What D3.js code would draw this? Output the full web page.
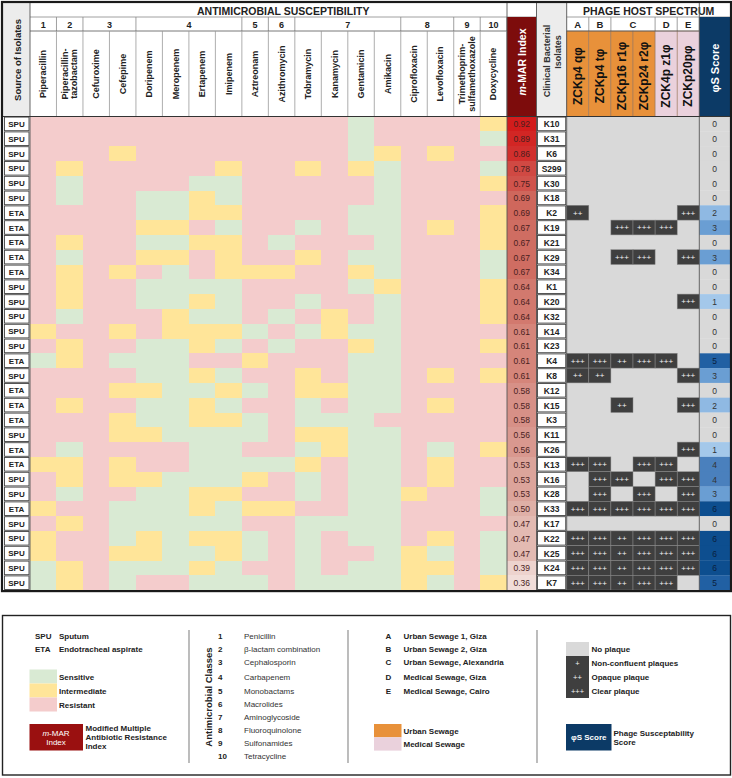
<!DOCTYPE html>
<html><head><meta charset="utf-8">
<script src="https://cdn.jsdelivr.net/npm/d3@7"></script>
<style>
body{margin:0;background:#fff}
text{font-family:"Liberation Sans",Arial,sans-serif}
</style>
</head><body>
<svg id="c" width="732" height="778"></svg>
<script>
// ---------------- DATA ----------------
const drugs = ["Piperacillin","Piperacillin-|tazobactam","Cefuroxime","Cefepime","Doripenem","Meropenem","Ertapenem","Imipenem","Aztreonam","Azithromycin","Tobramycin","Kanamycin","Gentamicin","Amikacin","Ciprofloxacin","Levofloxacin","Trimethoprim-|sulfamethoxazole","Doxycycline"];
const drugClass = [1,2,3,3,4,4,4,4,5,6,7,7,7,7,8,8,9,10];
const isolates = ["K10","K31","K6","S299","K30","K18","K2","K19","K21","K29","K34","K1","K20","K32","K14","K23","K4","K8","K12","K15","K3","K11","K26","K13","K16","K28","K33","K17","K22","K25","K24","K7"];
const sources = ["SPU","SPU","SPU","SPU","SPU","SPU","ETA","ETA","ETA","ETA","ETA","SPU","SPU","SPU","SPU","SPU","ETA","SPU","ETA","ETA","ETA","SPU","ETA","ETA","SPU","SPU","ETA","SPU","SPU","SPU","SPU","SPU"];
const marIndex = [0.92,0.89,0.86,0.78,0.75,0.69,0.69,0.67,0.67,0.67,0.67,0.64,0.64,0.64,0.61,0.61,0.61,0.61,0.58,0.58,0.58,0.56,0.56,0.53,0.53,0.53,0.50,0.47,0.47,0.47,0.39,0.36];
// S = sensitive, I = intermediate, R = resistant (one letter per drug)
const susceptibility = [
"RRRRRRRRRRRRSRRRRI","RRRRRRRRRRRRSRRRRS","RRRIRRRRRRRRSIRIRR","RIRRRRRIRRIRISRRRS",
"RSRRRRSSRRRRRSRRRI","RSRRSSISRRRRRSRRRR","RRRRSSIIRRRRSSRRRI","RRRRIIRSRRSRSSRIRI",
"RIRRSSIIRSRRRSRRRI","RSRRIIRIRRIRSSRRRS","RIRIRSRIIIRRISRRRS","RIRRSSSSRRRRSIRRRI",
"RIRRSSISRRSRRSRRRI","RSRRRISSRSRIRSRRRI","IRRIRIIISRSISSRRRR","RIRRSSISRSRRISRRRI",
"SIRSSSRRIRRRSSRRRR","RRRRSSISRRIRSSRIRI","RRRIISSISRIISSRRRR","RIRRSSISRRSRSSRIRR",
"RRRISSIISRSSSRRRRR","RRRIISSSSRIISSRRRR","RSRRRRSSRRSISSRSRI","IIRIRRSSSSIRSSRIRR",
"RIRIISSSIRSRSSRIRR","RSRRSSIIRRSRSSIRRS","IRRSSSISIIRRSSRRRS","RIRSSSSSRRSSSSRRRR",
"IRRSISIISRSRSSRIRS","IRRIISSISRSRRSISRS","SIRSSSISRRSRSSIIRS","SIRSRRSSSRSSSSISRI"];
const phages = ["ZCKp4 qφ","ZCKp4 tφ","ZCKp16 r1φ","ZCKp24 r2φ","ZCK4p z1φ","ZCKp20pφ"];
const phageSite = ["A","B","C","C","D","E"];
const phageSewage = ["Urban","Urban","Urban","Urban","Medical","Medical"];
// 0 no plaque, 1 non-confluent (+), 2 opaque (++), 3 clear (+++)
const plaques = ["000000","000000","000000","000000","000000","000000","200003","003330","000000","003303",
"000000","000000","000003","000000","000000","000000","332330","220003","000000","002003",
"000000","000000","000003","330330","033033","030303","333333","000000","332333","332333","332333","332330"];
const phiScore = [0,0,0,0,0,0,2,3,0,3,0,0,1,0,0,0,5,3,0,2,0,0,1,4,4,3,6,0,6,6,6,5];

const legendSources = [["SPU","Sputum"],["ETA","Endotracheal aspirate"]];
const legendSusc = [["S","Sensitive"],["I","Intermediate"],["R","Resistant"]];
const legendClasses = ["Penicillin","β-lactam combination","Cephalosporin","Carbapenem","Monobactams","Macrolides","Aminoglycoside","Fluoroquinolone","Sulfonamides","Tetracycline"];
const legendSites = [["A","Urban Sewage 1, Giza"],["B","Urban Sewage 2, Giza"],["C","Urban Sewage, Alexandria"],["D","Medical Sewage, Giza"],["E","Medical Sewage, Cairo"]];
const legendSewage = [["Urban","Urban Sewage"],["Medical","Medical Sewage"]];
const legendPlaque = [[0,"No plaque"],[1,"Non-confluent plaques"],[2,"Opaque plaque"],[3,"Clear plaque"]];

// ---------------- STYLE ----------------
const suscColor = {S:"#d9ead3", I:"#ffe599", R:"#f4cccc"};
const sewageColor = {Urban:"#e8913a", Medical:"#ead1dc"};
const plaqueSym = ["","+","++","+++"];
const marColor = d3.scaleLinear().domain([0.36,0.5,0.67,0.92]).range(["#f1ddd9","#dfb0a7","#cf6d62","#d21c1c"]);
const scoreColor = d3.scaleOrdinal().domain([0,1,2,3,4,5,6]).range(["#d9d9d9","#a4c8ea","#8fb9e3","#6a9ed3","#4a80bd","#2160a3","#0d4e8f"]);
const grayBg = "#d9d9d9", darkCell = "#3f3f3f", marHead = "#7d0c0c", navy = "#0c3a66", hdrGray = "#ececec";

const svg = d3.select("#c");
const top0 = 3, yClass = 17, yName = 31, dataTop = 116.5, rowH = 14.8;
const xDrug = d3.scaleBand().domain(d3.range(drugs.length)).range([30, 506.7]);
const y = d3.scaleBand().domain(isolates).range([dataTop, dataTop + isolates.length*rowH]);
const xPh = d3.scaleBand().domain(d3.range(phages.length)).range([566.7, 699.3]);
const xMar = [507, 536.5], xIso = [536.5, 566.7], xScore = [699.3, 730.5], xSrc = [3, 30];
const bottom = y.range()[1];

function txt(g, x, yy, s, o={}) {
  const t = g.append("text").attr("x", x).attr("y", yy).text(s)
    .attr("font-size", o.size||8).attr("font-weight", o.weight||"bold")
    .attr("fill", o.fill||"#222").attr("text-anchor", o.anchor||"middle")
    .attr("dominant-baseline", "central");
  if (o.rot) t.attr("transform", `rotate(-90,${x},${yy})`);
  if (o.style) t.attr("font-style", o.style);
  return t;
}

// ---------------- HEADER ----------------
const H = svg.append("g");
H.append("rect").attr("x", xSrc[0]).attr("y", top0).attr("width", xSrc[1]-xSrc[0]).attr("height", dataTop-top0).attr("fill", hdrGray);
txt(H, 17, 60, "Source of Isolates", {size:9.5, rot:true});
txt(H, (30+536.5)/2, 10.5, "ANTIMICROBIAL SUSCEPTIBILITY", {size:10.5});
// class numbers
const groups = d3.groups(d3.range(drugs.length), i => drugClass[i]);
groups.forEach(([c, idx]) => {
  const x0 = xDrug(idx[0]), x1 = xDrug(idx[idx.length-1]) + xDrug.bandwidth();
  txt(H, (x0+x1)/2, 24.5, String(c), {size:9});
  H.append("line").attr("x1", x1).attr("x2", x1).attr("y1", yClass).attr("y2", yName).attr("stroke", "#888").attr("stroke-width", 0.8);
});
H.append("line").attr("x1", 30).attr("x2", 536.5).attr("y1", yClass).attr("y2", yClass).attr("stroke", "#888").attr("stroke-width", 0.8);
H.append("line").attr("x1", 30).attr("x2", 507).attr("y1", yName).attr("y2", yName).attr("stroke", "#555").attr("stroke-width", 0.8);
// drug names
drugs.forEach((d, i) => {
  const cx = xDrug(i) + xDrug.bandwidth()/2;
  H.append("line").attr("x1", xDrug(i)+xDrug.bandwidth()).attr("x2", xDrug(i)+xDrug.bandwidth())
    .attr("y1", yName).attr("y2", dataTop).attr("stroke", "#999").attr("stroke-width", 0.8);
  const parts = d.split("|");
  if (parts.length === 1) txt(H, cx, 74, d, {size:9, rot:true});
  else {
    txt(H, cx-4.6, 74, parts[0], {size:9, rot:true});
    txt(H, cx+4.6, 74, parts[1], {size:9, rot:true});
  }
});
// m-MAR header
H.append("rect").attr("x", xMar[0]).attr("y", yClass).attr("width", xMar[1]-xMar[0]).attr("height", dataTop-yClass).attr("fill", marHead);
const mt = txt(H, 521.8, 62, "", {size:10.5, rot:true, fill:"#fff"});
mt.append("tspan").attr("font-style", "italic").text("m");
mt.append("tspan").text("-MAR Index");
// Clinical isolates header
H.append("rect").attr("x", xIso[0]).attr("y", top0).attr("width", xIso[1]-xIso[0]).attr("height", dataTop-top0).attr("fill", hdrGray);
txt(H, 546.5, 61, "Clinical Bacterial", {size:9, rot:true, fill:"#333"});
txt(H, 557.5, 52, "Isolates", {size:9, rot:true, fill:"#333"});
// Phage header
txt(H, (566.7+730.5)/2, 10.5, "PHAGE HOST SPECTRUM", {size:10.5});
H.append("line").attr("x1", 566.7).attr("x2", 730.5).attr("y1", yClass).attr("y2", yClass).attr("stroke", "#888").attr("stroke-width", 0.8);
const siteGroups = d3.groups(d3.range(phages.length), i => phageSite[i]);
siteGroups.forEach(([s, idx]) => {
  const x0 = xPh(idx[0]), x1 = xPh(idx[idx.length-1]) + xPh.bandwidth();
  txt(H, (x0+x1)/2, 24.5, s, {size:9.5});
  H.append("line").attr("x1", x1).attr("x2", x1).attr("y1", yClass).attr("y2", yName).attr("stroke", "#888").attr("stroke-width", 0.8);
});
phages.forEach((p, i) => {
  H.append("rect").attr("x", xPh(i)).attr("y", yName).attr("width", xPh.bandwidth()).attr("height", dataTop-yName)
    .attr("fill", sewageColor[phageSewage[i]]).attr("stroke", "#9b7a60").attr("stroke-width", 0.6);
  txt(H, xPh(i)+xPh.bandwidth()/2, 76, p, {size:12, rot:true, fill:"#111"});
});
H.append("line").attr("x1", 566.7).attr("x2", 699.3).attr("y1", yName).attr("y2", yName).attr("stroke", "#555").attr("stroke-width", 0.8);
H.append("rect").attr("x", xScore[0]).attr("y", yClass).attr("width", xScore[1]-xScore[0]).attr("height", dataTop-yClass).attr("fill", navy);
txt(H, 715, 68, "φS Score", {size:11, rot:true, fill:"#fff"});

// ---------------- BODY ----------------
const B = svg.append("g").attr("shape-rendering", "crispEdges");
const cells = [];
isolates.forEach((iso, r) => susceptibility[r].split("").forEach((s, c) => cells.push({iso, c, s})));
B.selectAll("rect.cell").data(cells).join("rect").attr("class", "cell")
  .attr("x", d => xDrug(d.c)).attr("y", d => y(d.iso))
  .attr("width", xDrug.bandwidth()+0.5).attr("height", y.bandwidth()+0.5)
  .attr("fill", d => suscColor[d.s]);
// m-MAR
B.selectAll("rect.mar").data(isolates).join("rect").attr("class", "mar")
  .attr("x", xMar[0]).attr("y", d => y(d)).attr("width", xMar[1]-xMar[0]).attr("height", y.bandwidth()+0.5)
  .attr("fill", (d, i) => marColor(marIndex[i]));
const T = svg.append("g");
isolates.forEach((iso, i) => {
  txt(T, (xMar[0]+xMar[1])/2, y(iso)+rowH/2+0.5, marIndex[i].toFixed(2), {size:8.5, weight:"normal", fill:"#4a1e1e"});
});
// source + isolate boxes
const SB = svg.append("g");
isolates.forEach((iso, i) => {
  SB.append("rect").attr("x", xSrc[0]+1.5).attr("y", y(iso)+0.6).attr("width", xSrc[1]-xSrc[0]-2.5).attr("height", rowH-1.2)
    .attr("fill", "#fff").attr("stroke", "#444").attr("stroke-width", 0.9);
  txt(SB, (xSrc[0]+xSrc[1])/2, y(iso)+rowH/2+0.5, sources[i], {size:8});
  SB.append("rect").attr("x", xIso[0]+1).attr("y", y(iso)+0.6).attr("width", xIso[1]-xIso[0]-2).attr("height", rowH-1.2)
    .attr("fill", "#fff").attr("stroke", "#444").attr("stroke-width", 0.9);
  txt(SB, (xIso[0]+xIso[1])/2, y(iso)+rowH/2+0.5, iso, {size:8.5});
});
// phage grid
const P = svg.append("g");
P.append("rect").attr("x", 566.7).attr("y", dataTop).attr("width", 699.3-566.7).attr("height", bottom-dataTop).attr("fill", grayBg);
const pcells = [];
isolates.forEach((iso, r) => plaques[r].split("").forEach((v, c) => { if (+v > 0) pcells.push({iso, c, v:+v}); }));
P.selectAll("rect.pc").data(pcells).join("rect").attr("class", "pc")
  .attr("x", d => xPh(d.c)).attr("y", d => y(d.iso)).attr("width", xPh.bandwidth()).attr("height", y.bandwidth())
  .attr("fill", darkCell).attr("stroke", "#8a8a8a").attr("stroke-width", 0.5);
pcells.forEach(d => txt(P, xPh(d.c)+xPh.bandwidth()/2, y(d.iso)+rowH/2+0.3, plaqueSym[d.v], {size:8, weight:"normal", fill:"#f2f2f2"}));
// score
isolates.forEach((iso, i) => {
  P.append("rect").attr("x", xScore[0]).attr("y", y(iso)).attr("width", xScore[1]-xScore[0]).attr("height", y.bandwidth()+0.3)
    .attr("fill", scoreColor(phiScore[i]));
  txt(P, 714.5, y(iso)+rowH/2+0.5, String(phiScore[i]), {size:8.5, weight:"normal", fill: phiScore[i]>=5 ? "#0a2140" : "#333"});
});

// ---------------- FRAME LINES ----------------
const F = svg.append("g").attr("fill", "none");
[30, 507, 536.5, 566.7, 699.3].forEach(x => F.append("line").attr("x1", x).attr("x2", x).attr("y1", top0).attr("y2", bottom).attr("stroke", "#555").attr("stroke-width", 0.9));
F.append("line").attr("x1", 3).attr("x2", 730.5).attr("y1", dataTop).attr("y2", dataTop).attr("stroke", "#333").attr("stroke-width", 1);
F.append("rect").attr("x", 2).attr("y", 2).attr("width", 729).attr("height", bottom-1).attr("stroke", "#1a1a1a").attr("stroke-width", 2.2);

// ---------------- LEGEND ----------------
const G = svg.append("g");
G.append("rect").attr("x", 2.5).attr("y", 615.5).attr("width", 728).attr("height", 159.5).attr("fill", "#fff").attr("stroke", "#222").attr("stroke-width", 1.4);
const rowsY = [636, 649.3, 662.7, 677, 691, 704.3, 717.3, 730.3, 743.7, 756.3];
legendSources.forEach(([a, b], i) => {
  txt(G, 35, rowsY[i], a, {size:8, anchor:"start"});
  txt(G, 59, rowsY[i], b, {size:8, anchor:"start"});
});
legendSusc.forEach(([k, lab], i) => {
  const y0 = 669.5 + i*14;
  G.append("rect").attr("x", 29.5).attr("y", y0).attr("width", 27.5).attr("height", 14).attr("fill", suscColor[k]);
  txt(G, 59, y0+7.5, lab, {size:8, anchor:"start"});
});
G.append("rect").attr("x", 29.5).attr("y", 724).attr("width", 53.5).attr("height", 26.5).attr("fill", "#9a1010");
const lm = txt(G, 56, 733, "", {size:8, weight:"normal", fill:"#fff"});
lm.append("tspan").attr("font-style", "italic").text("m");
lm.append("tspan").text("-MAR");
txt(G, 56, 742.5, "Index", {size:8, weight:"normal", fill:"#fff"});
["Modified Multiple","Antibiotic Resistance","Index"].forEach((s, i) => txt(G, 85.5, 728.5+i*9, s, {size:8, anchor:"start"}));
[189, 348, 537].forEach(x => G.append("line").attr("x1", x).attr("x2", x).attr("y1", 630).attr("y2", 763).attr("stroke", "#999").attr("stroke-width", 1.3));
txt(G, 208, 697, "Antimicrobial Classes", {size:9.5, rot:true});
legendClasses.forEach((c, i) => {
  txt(G, 218, rowsY[i], String(i+1), {size:8, anchor:"start"});
  txt(G, 244, rowsY[i], c, {size:8, weight:"normal", anchor:"start", fill:"#333"});
});
legendSites.forEach(([a, b], i) => {
  txt(G, 388.5, rowsY[i], a, {size:8});
  txt(G, 403.5, rowsY[i], b, {size:8, anchor:"start"});
});
legendSewage.forEach(([k, lab], i) => {
  G.append("rect").attr("x", 374).attr("y", 724+i*13.3).attr("width", 27.5).attr("height", 13.3).attr("fill", sewageColor[k]);
  txt(G, 403.5, 731+i*13.3, lab, {size:8, anchor:"start"});
});
legendPlaque.forEach(([v, lab], i) => {
  const y0 = 642 + i*14;
  G.append("rect").attr("x", 566).attr("y", y0).attr("width", 23).attr("height", 14).attr("fill", v ? darkCell : grayBg);
  if (v) txt(G, 577.5, y0+7, plaqueSym[v], {size:7.5, weight:"normal", fill:"#f2f2f2"});
  txt(G, 591.5, y0+7.3, lab, {size:8, anchor:"start"});
});
G.append("rect").attr("x", 566).attr("y", 724).attr("width", 45.5).attr("height", 26.5).attr("fill", navy);
txt(G, 588.7, 737.5, "φS Score", {size:8, fill:"#fff"});
["Phage Susceptability","Score"].forEach((s, i) => txt(G, 613.5, 733+i*9, s, {size:8, anchor:"start"}));
</script>
</body></html>
